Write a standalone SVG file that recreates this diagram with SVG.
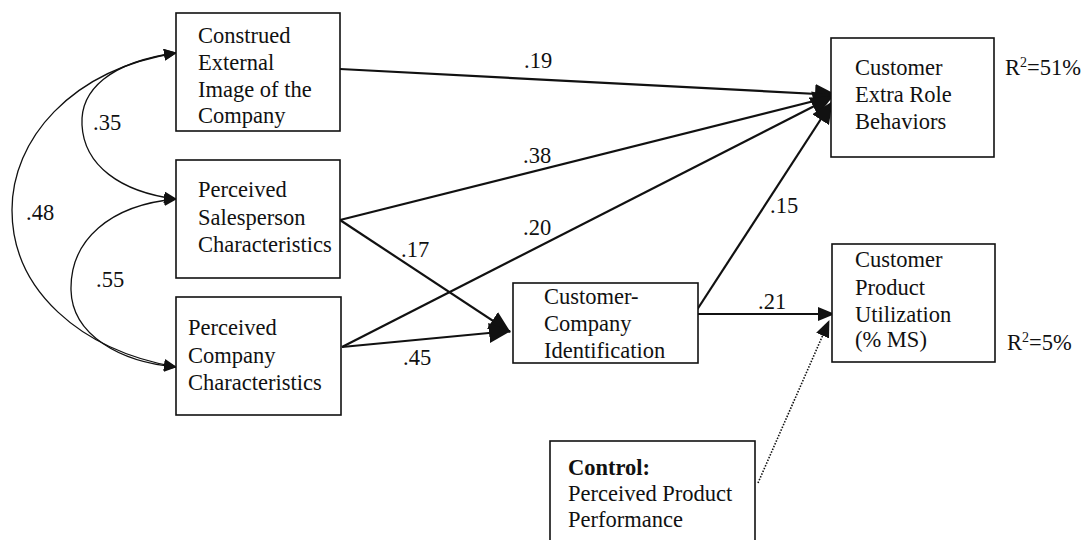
<svg xmlns="http://www.w3.org/2000/svg" width="1085" height="540" viewBox="0 0 1085 540" font-family="'Liberation Serif', 'DejaVu Serif', serif" font-size="22">
<style>
text{font-family:"Liberation Serif","DejaVu Serif",serif;font-size:22.5px;fill:#111}
.box{fill:#fff;stroke:#111;stroke-width:1.6}
.edge{fill:none;stroke:#111;stroke-width:2.2}
.curve{fill:none;stroke:#111;stroke-width:1.3}
.dot{fill:none;stroke:#111;stroke-width:1.6;stroke-dasharray:1.5 1.5}
</style>
<defs>
<marker id="big" viewBox="0 0 22 20" refX="21" refY="10" markerWidth="22" markerHeight="20" markerUnits="userSpaceOnUse" orient="auto"><path d="M0,0 L22,10 L0,20 z" fill="#111"/></marker>
<marker id="med" viewBox="0 0 17 14" refX="16" refY="7" markerWidth="17" markerHeight="14" markerUnits="userSpaceOnUse" orient="auto"><path d="M0,0 L17,7 L0,14 z" fill="#111"/></marker>
<marker id="small" viewBox="0 0 13 12" refX="12" refY="6" markerWidth="13" markerHeight="12" markerUnits="userSpaceOnUse" orient="auto-start-reverse"><path d="M0,0 L13,6 L0,12 z" fill="#111"/></marker>
</defs>

<g id="connectors">
<path class="curve" d="M176,53 C110,62 80,90 82,125 C84,165 120,192 176,199" marker-start="url(#small)" marker-end="url(#small)"/>
<path class="curve" d="M176,199 C110,205 70,240 71,290 C72,335 120,362 176,367" marker-start="url(#small)" marker-end="url(#small)"/>
<path class="curve" d="M176,53 C70,70 12,140 12,210 C12,290 80,350 176,367" marker-start="url(#small)" marker-end="url(#small)"/>
<path class="edge" d="M340,69 L836,95" marker-end="url(#big)"/>
<path class="edge" d="M340,220 L834,96" marker-end="url(#big)"/>
<path class="edge" d="M342,347 L832,97" marker-end="url(#big)"/>
<path class="edge" d="M693,316 L832,102" marker-end="url(#big)"/>
<path class="edge" d="M340,220 L510,332" marker-end="url(#big)"/>
<path class="edge" d="M342,347 L510,331" marker-end="url(#big)"/>
<path class="edge" d="M693,314 L834,314" marker-end="url(#med)"/>
<path class="dot" d="M758,483 L829,321" marker-end="url(#med)"/>
<text x="93" y="130">.35</text>
<text x="26" y="220">.48</text>
<text x="96" y="287">.55</text>
<text x="524" y="68">.19</text>
<text x="523" y="163">.38</text>
<text x="523" y="235">.20</text>
<text x="401" y="257">.17</text>
<text x="403" y="365">.45</text>
<text x="770" y="213">.15</text>
<text x="758" y="309">.21</text>
</g>

<g id="construed">
<rect class="box" x="176" y="13" width="164" height="118"/>
<text x="198" y="43">Construed</text>
<text x="198" y="70">External</text>
<text x="198" y="97">Image of the</text>
<text x="198" y="123">Company</text>
</g>

<g id="salesperson">
<rect class="box" x="176" y="160" width="164" height="118"/>
<text x="198" y="197">Perceived</text>
<text x="198" y="225">Salesperson</text>
<text x="198" y="252">Characteristics</text>
</g>

<g id="company">
<rect class="box" x="176" y="297" width="165" height="118"/>
<text x="188" y="335">Perceived</text>
<text x="188" y="363">Company</text>
<text x="188" y="390">Characteristics</text>
</g>

<g id="identification">
<rect class="box" x="513" y="283" width="185" height="80"/>
<text x="544" y="304">Customer-</text>
<text x="544" y="331">Company</text>
<text x="544" y="358">Identification</text>
</g>

<g id="extrarole">
<rect class="box" x="831" y="38" width="163" height="119"/>
<text x="855" y="75">Customer</text>
<text x="855" y="102">Extra Role</text>
<text x="855" y="129">Behaviors</text>
<text x="1005" y="75">R<tspan font-size="14" dy="-8">2</tspan><tspan dy="8">=51%</tspan></text>
</g>

<g id="utilization">
<rect class="box" x="832" y="244" width="163" height="118"/>
<text x="855" y="267">Customer</text>
<text x="855" y="295">Product</text>
<text x="855" y="322">Utilization</text>
<text x="855" y="347">(% MS)</text>
<text x="1007" y="350">R<tspan font-size="14" dy="-8">2</tspan><tspan dy="8">=5%</tspan></text>
</g>

<g id="control">
<rect class="box" x="550" y="441" width="205" height="120"/>
<text x="568" y="475" font-weight="bold">Control:</text>
<text x="568" y="501">Perceived Product</text>
<text x="568" y="527">Performance</text>
</g>
</svg>
